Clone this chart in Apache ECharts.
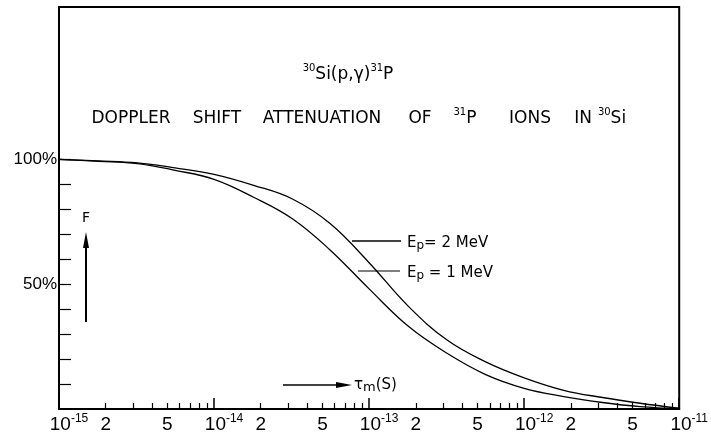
<!DOCTYPE html>
<html>
<head>
<meta charset="utf-8">
<script src="https://cdn.jsdelivr.net/npm/echarts@6/dist/echarts.min.js"></script>
<style>
  html, body { margin: 0; padding: 0; background: #fff; }
  #chart { width: 711px; height: 439px; }
</style>
</head>
<body>
<div id="chart"></div>
<script>
// mean lifetime tau_m in seconds (x values, log axis)
var TAU_S = [1e-15, 1.8e-15, 3.2e-15, 5.6e-15, 1e-14, 1.8e-14, 3.2e-14, 5.6e-14,
  1e-13, 1.8e-13, 3.2e-13, 5.6e-13, 1e-12, 1.8e-12, 3.2e-12, 5.6e-12, 1e-11];
// attenuation factor F in %
var F_2MEV = [100, 99.4, 98.6, 96.6, 94.0, 89.6, 84.1, 74.3,
  58.6, 41.0, 27.5, 19.0, 12.5, 7.5, 4.6, 2.3, 0.3];
var F_1MEV = [100, 99.2, 98.3, 95.6, 92.0, 84.8, 76.2, 63.7,
  48.1, 33.0, 22.2, 13.9, 8.3, 5.0, 2.6, 0.95, 0.1];

var DECADES = [-15, -14, -13, -12, -11];   // log10 of decade ticks
var MINOR_MANT = [2, 3, 4, 5, 6, 7, 8, 9];
var MINOR_LABEL_MANT = [2, 5];
var Y_TICKS = [10, 20, 30, 40, 50, 60, 70, 80, 90, 100];
var Y_LABELS = [50, 100];

// title words: [rich text, centre x]
var TITLE_WORDS = [
  ['DOPPLER', 131], ['SHIFT', 217], ['ATTENUATION', 322], ['OF', 420],
  ['{s|31}{n|P}', 465], ['IONS', 530], ['IN', 583], ['{s|30}{n|Si}', 612]
];

var FONT = 'Liberation Sans';
var LFONT = 'DejaVu Sans';

function pairs(xs, ys) {
  return xs.map(function (t, i) { return [Math.log10(t), ys[i]]; });
}

var minorTicks = [], minorLabels = [];
for (var d = -15; d < -11; d++) {
  MINOR_MANT.forEach(function (m) { minorTicks.push(d + Math.log10(m)); });
  MINOR_LABEL_MANT.forEach(function (m) { minorLabels.push(d + Math.log10(m)); });
}

// rich styles for super / subscripts
function richSup(size, supSize, lh) {
  return {
    n: { fontSize: size, fontFamily: LFONT, color: '#000', lineHeight: lh },
    s: { fontSize: supSize, fontFamily: LFONT, color: '#000', lineHeight: supSize, verticalAlign: 'top' },
    b: { fontSize: supSize, fontFamily: LFONT, color: '#000', lineHeight: supSize, verticalAlign: 'bottom' }
  };
}

var chart = echarts.init(document.getElementById('chart'), null, { renderer: 'canvas' });

var graphics = [];
TITLE_WORDS.forEach(function (w) {
  var t = w[0].indexOf('{') < 0 ? '{n|' + w[0] + '}' : w[0];
  graphics.push({
    type: 'text', x: w[1], y: 119,
    style: { text: t, align: 'center', verticalAlign: 'middle', fill: '#000', rich: richSup(17, 10, 24) }
  });
});

graphics = graphics.concat([
  {
    type: 'text', x: 348, y: 75, style: {
      text: '{s|30}{n|Si(p,γ)}{s|31}{n|P}', align: 'center', verticalAlign: 'middle', fill: '#000',
      rich: richSup(17, 10, 24)
    }
  },
  // curve labels with leader lines
  { type: 'line', shape: { x1: 352, y1: 241, x2: 401, y2: 241 }, style: { stroke: '#000', lineWidth: 1.5 } },
  { type: 'line', shape: { x1: 358, y1: 271, x2: 400, y2: 271 }, style: { stroke: '#000', lineWidth: 1.2 } },
  {
    type: 'text', x: 407, y: 243, style: {
      text: '{n|E}{b|p}{n|= 2 MeV}', verticalAlign: 'middle', fill: '#000', rich: richSup(15, 12, 18)
    }
  },
  {
    type: 'text', x: 407, y: 273, style: {
      text: '{n|E}{b|p}{n| = 1 MeV}', verticalAlign: 'middle', fill: '#000', rich: richSup(15, 12, 18)
    }
  },
  // F arrow
  { type: 'text', x: 86, y: 218, style: { text: 'F', align: 'center', verticalAlign: 'middle', font: '14px "DejaVu Sans"', fill: '#000' } },
  { type: 'line', shape: { x1: 86, y1: 322, x2: 86, y2: 244 }, style: { stroke: '#000', lineWidth: 2 } },
  { type: 'polygon', shape: { points: [[86, 232], [83, 248], [89, 248]] }, style: { fill: '#000' } },
  // tau arrow
  { type: 'line', shape: { x1: 283, y1: 385, x2: 340, y2: 385 }, style: { stroke: '#000', lineWidth: 1.5 } },
  { type: 'polygon', shape: { points: [[352, 385], [336, 382], [336, 388]] }, style: { fill: '#000' } },
  {
    type: 'text', x: 354, y: 385, style: {
      text: '{n|τ}{b|m}{n|(S)}', verticalAlign: 'middle', fill: '#000', rich: richSup(15, 13, 18)
    }
  }
]);

var option = {
  animation: false,
  backgroundColor: '#fff',
  grid: {
    left: 59, right: 23, top: 7, bottom: 30,
    show: true, borderColor: '#000', borderWidth: 2, backgroundColor: 'transparent'
  },
  xAxis: [{
    type: 'value', min: -15, max: -11, position: 'bottom',
    splitLine: { show: false },
    axisLine: { lineStyle: { color: '#000', width: 2 } },
    axisTick: { inside: true, length: 11, customValues: DECADES, lineStyle: { color: '#000', width: 1.5 } },
    axisLabel: {
      customValues: DECADES, margin: 4, color: '#000',
      padding: [0, 0, 0, 20],
      formatter: function (v) { return '{n|10}{s|' + Math.round(v) + '}'; },
      rich: {
        n: { fontSize: 19, fontFamily: FONT, color: '#000', lineHeight: 24 },
        s: { fontSize: 12, fontFamily: FONT, color: '#000', lineHeight: 11, verticalAlign: 'top' }
      }
    }
  }, {
    type: 'value', min: -15, max: -11, position: 'bottom',
    splitLine: { show: false },
    axisLine: { show: false },
    axisTick: { inside: true, length: 6, customValues: minorTicks, lineStyle: { color: '#000', width: 1.2 } },
    axisLabel: {
      customValues: minorLabels, margin: 4, color: '#000', fontFamily: FONT, fontSize: 19, lineHeight: 24,
      formatter: function (v) { return String(Math.round(Math.pow(10, v - Math.floor(v)))); }
    }
  }],
  yAxis: {
    type: 'value', min: 0, max: 161,
    splitLine: { show: false },
    axisLine: { lineStyle: { color: '#000', width: 2 } },
    axisTick: { inside: true, length: 12, customValues: Y_TICKS, lineStyle: { color: '#000', width: 1.2 } },
    axisLabel: {
      customValues: Y_LABELS, margin: 2, color: '#000', fontFamily: FONT, fontSize: 17,
      formatter: function (v) { return v + '%'; }
    }
  },
  series: [{
    name: 'Ep = 2 MeV', type: 'line', xAxisIndex: 0, smooth: 0.4, showSymbol: false,
    lineStyle: { color: '#000', width: 1.3 },
    data: pairs(TAU_S, F_2MEV)
  }, {
    name: 'Ep = 1 MeV', type: 'line', xAxisIndex: 0, smooth: 0.4, showSymbol: false,
    lineStyle: { color: '#000', width: 1.3 },
    data: pairs(TAU_S, F_1MEV)
  }],
  graphic: graphics
};

chart.setOption(option);
</script>
</body>
</html>
